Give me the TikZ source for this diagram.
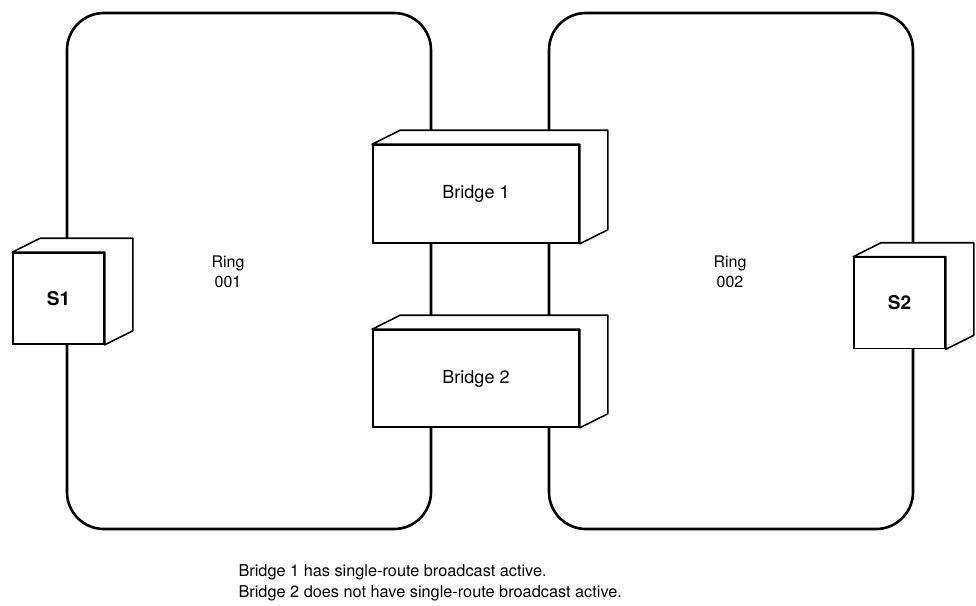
\documentclass[tikz,border=0pt]{standalone}
\usepackage{fontspec}
\setmainfont{TeX Gyre Heros}
\usepackage{tikz}
\usetikzlibrary{positioning}
\tikzset{
ring/.style={line width=2.6pt,rounded corners=37pt},
unitbox/.style={draw,line width=1.6pt,fill=white,inner sep=0pt,align=center},
face/.style={line width=1.6pt,fill=white,line join=round},
ringlabel/.style={align=center,font=\fontsize{16}{20}\selectfont},
notelabel/.style={align=left,font=\fontsize{16.3}{21}\selectfont}
}

\begin{document}
\begin{tikzpicture}[x=1pt,y=-1pt]
\useasboundingbox (0,0) rectangle (976,605);
% the two token rings
\draw[ring] (67,13) rectangle (431,529);
\draw[ring] (549,13) rectangle (913,529);
\node[ringlabel] (ring1) at (228,272) {Ring\\001};
\node[ringlabel] (ring2) at (730,272) {Ring\\002};
% stations and bridges
\node[unitbox,minimum width=91pt,minimum height=91pt,font=\fontsize{19}{19}\selectfont\bfseries] (s1) at (58.5,298.5) {S1};
\node[unitbox,minimum width=91pt,minimum height=91pt,font=\fontsize{19}{19}\selectfont\bfseries] (s2) at (899.5,303) {S2};
\node[unitbox,minimum width=206pt,minimum height=98pt,font=\fontsize{18}{18}\selectfont] (b1) at (476,194) {Bridge 1};
\node[unitbox,minimum width=206pt,minimum height=97pt,font=\fontsize{18}{18}\selectfont] (b2) at (476,378.5) {Bridge 2};
\foreach \n in {s1,s2,b1,b2}
  \draw[face] (\n.north west) -- ++(28,-14) -- ([shift={(28,-14)}]\n.north east)
    -- ([shift={(28,-14)}]\n.south east) -- (\n.south east) -- (\n.north east) -- cycle;
% note
\node[notelabel,anchor=north west] (note) at (235,561) {Bridge 1 has single-route broadcast active.\\Bridge 2 does not have single-route broadcast active.};
\end{tikzpicture}
\end{document}
